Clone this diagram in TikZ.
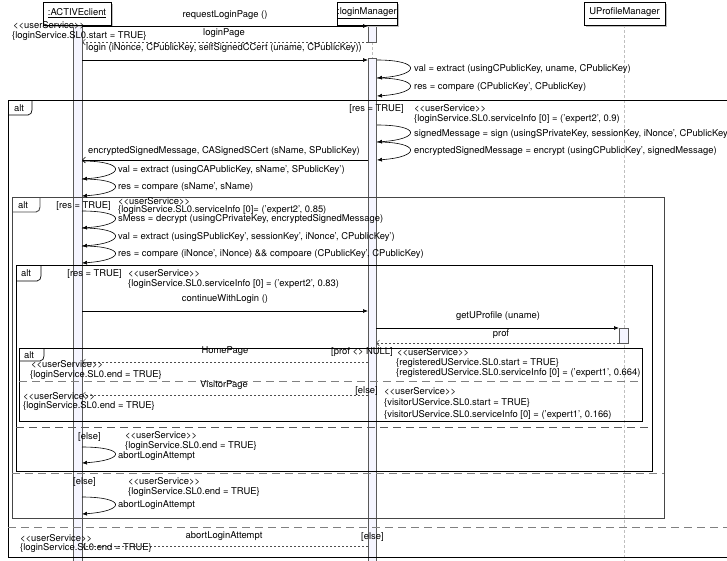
\documentclass[tikz,border=0pt]{standalone}
\usepackage{fontspec}
\setmainfont{TeX Gyre Heros}
\usetikzlibrary{arrows.meta}
\begin{document}
\begin{tikzpicture}[x=1pt,y=-1pt,
  txt/.style={inner sep=0pt, font=\fontsize{9.4}{10}\selectfont},
  lw/.style={txt, anchor=west},
  le/.style={txt, anchor=east},
  call/.style={draw=black, line width=0.7pt, -{Latex[length=5pt,width=4pt]}},
  answer/.style={draw=black, line width=0.6pt, -{Straight Barb[length=3pt,width=6pt]}},
  reply/.style={draw=gray!60!black, line width=0.6pt, dash pattern=on 2.5pt off 1.5pt, -{Straight Barb[length=3pt,width=6pt]}},
  selfcall/.style={draw=black, line width=0.6pt, -{Latex[length=5pt,width=4pt]}},
  frm/.style={draw=black, line width=0.7pt},
  frmgray/.style={draw=gray!55!black, line width=0.9pt},
  sep/.style={draw=gray, line width=0.8pt, dash pattern=on 8pt off 5pt},
  life/.style={draw=gray!50, line width=0.8pt, dash pattern=on 3pt off 2pt},
  actbar/.style={draw=gray!70!black, fill=blue!4!white, line width=0.6pt},
  hdr/.style={draw=black, fill=white, line width=0.7pt, inner sep=0pt,
              font=\fontsize{9.4}{10}\selectfont},
  shadow/.style={fill=gray!50, draw=none}
]
\useasboundingbox (0,0) rectangle (727,560);
\clip (0,0) rectangle (727,560);

% ---------- lifelines and activation bars ----------
\draw[life] (624,25) -- (624,562);
\draw[life] (372,42) -- (372,58);
\path[actbar] (73,25) rectangle (82,562);
\path[actbar] (368,25) rectangle (376,42);
\path[actbar] (368,58) rectangle (376,562);
\path[actbar] (619,328) rectangle (628,343);

% ---------- participant headers ----------
\fill[shadow] (44.5,3.5) rectangle (112.5,26.5);
\node[hdr, minimum width=68, minimum height=23] (client) at (77,13.5) {\underline{:ACTIVEclient}};
\fill[shadow] (338.5,3.5) rectangle (398.5,26.5);
\node[hdr, minimum width=60, minimum height=23] (server) at (367,13.5) {\underline{:loginManager}};
\fill[shadow] (585.5,3.5) rectangle (666.5,26.5);
\node[hdr, minimum width=81, minimum height=23] (profiles) at (624.5,13.5) {\underline{UProfileManager}};

% ---------- combined fragments ----------
\newcommand\alttab[5]{%
  \draw[#5] (#1,#2+#4) -- (#1+#3-4,#2+#4) to[out=0,in=-90] (#1+#3,#2+#4-5) -- (#1+#3,#2);}
% outer alt
\draw[frm] (8,100) rectangle (745,557);
\alttab{8}{100}{24}{15}{frm}
\node[txt] (alt1) at (19,108) {alt};
\draw[sep] (8,527) -- (745,527);
% second alt
\draw[frmgray] (12,197) rectangle (664,518);
\alttab{12}{197}{28}{15}{frmgray}
\node[txt] (alt2) at (23,205) {alt};
\draw[sep] (12,473) -- (664,473);
% third alt
\draw[frm] (16,265) rectangle (652,471);
\alttab{16}{265}{25}{16}{frm}
\node[txt] (alt3) at (26,273) {alt};
\draw[sep, draw=gray!70!black] (16,427) -- (652,427);
% fourth alt
\draw[frm] (19,348) rectangle (642,421);
\alttab{19}{348}{25}{13}{frm}
\node[txt] (alt4) at (29,355) {alt};
\draw[sep] (19,381) -- (642,381);

% ---------- message end points ----------
\coordinate (m1a) at (82,26);   \coordinate (m1b) at (368,26);
\coordinate (m2a) at (368,42);  \coordinate (m2b) at (82,42);
\coordinate (m3a) at (82,60);   \coordinate (m3b) at (368,60);
\coordinate (m4a) at (368,160); \coordinate (m4b) at (82,160);
\coordinate (m5a) at (82,311);  \coordinate (m5b) at (368,311);
\coordinate (m6a) at (376,328); \coordinate (m6b) at (619,328);
\coordinate (m7a) at (619,343); \coordinate (m7b) at (376,343);
\coordinate (m8a) at (368,362); \coordinate (m8b) at (82,362);
\coordinate (m9a) at (368,395); \coordinate (m9b) at (82,395);
\coordinate (m10a) at (368,546); \coordinate (m10b) at (82,546);

% ---------- messages ----------
\draw[call] (m1a) -- (m1b);
\node[txt] (l1) at (225,15) {requestLoginPage ()};
\draw[reply] (m2a) -- (m2b);
\node[txt] (l2) at (224,33) {loginPage};
\draw[call] (m3a) -- (m3b);
\node[txt] (l3) at (224,48) {login (iNonce, CPublicKey, selfSignedCCert (uname, CPublicKey))};
\draw[answer] (m4a) -- (m4b);
\node[txt] (l4) at (224,151) {encryptedSignedMessage, CASignedSCert (sName, SPublicKey)};
\draw[call] (m5a) -- (m5b);
\node[txt] (l5) at (225,299) {continueWithLogin ()};
\draw[call] (m6a) -- (m6b);
\node[txt] (l6) at (498,316) {getUProfile (uname)};
\draw[reply] (m7a) -- (m7b);
\node[txt] (l7) at (501,334) {prof};
\draw[reply] (m8a) -- (m8b);
\node[txt] (l8) at (225,351) {HomePage};
\draw[reply] (m9a) -- (m9b);
\node[txt] (l9) at (224,385) {VisitorPage};
\draw[reply] (m10a) -- (m10b);
\node[txt] (l10) at (224,536) {abortLoginAttempt};

% ---------- self calls on loginManager ----------
\coordinate (s0) at (377,60);  \coordinate (s1) at (377,78);
\coordinate (s2) at (377,96);  \coordinate (s3) at (377,125);
\coordinate (s4) at (377,142); \coordinate (s5) at (377,160);
\draw[selfcall] (s0) .. controls +(44,0) and +(44,-3) .. (s1);
\draw[selfcall] (s1) .. controls +(44,0) and +(44,-3) .. (s2);
\draw[selfcall] (s3) .. controls +(44,0) and +(44,-3) .. (s4);
\draw[selfcall] (s4) .. controls +(44,0) and +(44,-3) .. (s5);
\node[lw] (t1) at (414,69) {val = extract (usingCPublicKey, uname, CPublicKey)};
\node[lw] (t2) at (414,87) {res = compare (CPublicKey', CPublicKey)};
\node[lw] (t3) at (414,134) {signedMessage = sign (usingSPrivateKey, sessionKey, iNonce', CPublicKey)};
\node[lw] (t4) at (414,151) {encryptedSignedMessage = encrypt (usingCPublicKey', signedMessage)};

% ---------- self calls on ACTIVEclient ----------
\coordinate (c0) at (82,161);  \coordinate (c1) at (82,179);
\coordinate (c2) at (82,196);  \coordinate (c3) at (82,211);
\coordinate (c4) at (82,228);  \coordinate (c5) at (82,246);
\coordinate (c6) at (82,263);
\coordinate (c7) at (82,447);  \coordinate (c8) at (82,463);
\coordinate (c9) at (82,497);  \coordinate (c10) at (82,514);
\draw[selfcall] (c0) .. controls +(44,0) and +(44,-3) .. (c1);
\draw[selfcall] (c1) .. controls +(44,0) and +(44,-3) .. (c2);
\draw[selfcall] (c3) .. controls +(44,0) and +(44,-3) .. (c4);
\draw[selfcall] (c4) .. controls +(44,0) and +(44,-3) .. (c5);
\draw[selfcall] (c5) .. controls +(44,0) and +(44,-3) .. (c6);
\draw[selfcall] (c7) .. controls +(44,0) and +(44,-3) .. (c8);
\draw[selfcall] (c9) .. controls +(44,0) and +(44,-3) .. (c10);
\node[lw] (u1) at (118,170) {val = extract (usingCAPublicKey, sName', SPublicKey')};
\node[lw] (u2) at (118,187) {res = compare (sName', sName)};
\node[lw] (u3) at (118,219) {sMess = decrypt (usingCPrivateKey, encryptedSignedMessage)};
\node[lw] (u4) at (118,237) {val = extract (usingSPublicKey', sessionKey', iNonce', CPublicKey')};
\node[lw] (u5) at (118,254) {res = compare (iNonce', iNonce) \&\& compoare (CPublicKey', CPublicKey)};
\node[lw] (u6) at (118,456) {abortLoginAttempt};
\node[lw] (u7) at (118,505) {abortLoginAttempt};

% ---------- guards and service annotations ----------
\node[lw] (a1) at (13,25) {<{}<userService>{}>};
\node[lw] (a2) at (12,36) {\{loginService.SL0.start = TRUE\}};

\node[le] (g1) at (404,109) {[res = TRUE]};
\node[lw] (a3) at (414,108) {<{}<userService>{}>};
\node[lw] (a4) at (414,119) {\{loginService.SL0.serviceInfo [0] = ('expert2', 0.9)};

\node[le] (g2) at (111,206) {[res = TRUE]};
\node[lw] (a5) at (118,201) {<{}<userService>{}>};
\node[lw] (a6) at (118,210) {\{loginService.SL0.serviceInfo [0]= ('expert2', 0.85)};

\node[le] (g3) at (122,274) {[res = TRUE]};
\node[lw] (a7) at (128,273) {<{}<userService>{}>};
\node[lw] (a8) at (128,284) {\{loginService.SL0.serviceInfo [0] = ('expert2', 0.83)};

\node[le] (g4) at (393,352) {[prof <{}> NULL]};
\node[lw] (a9) at (397,352) {<{}<userService>{}>};
\node[lw] (a10) at (396,363) {\{registeredUService.SL0.start = TRUE\}};
\node[lw] (a11) at (396,373) {\{registeredUService.SL0.serviceInfo [0] = ('expert1', 0.664)};
\node[lw] (a12) at (31,364) {<{}<userService>{}>};
\node[lw] (a13) at (30,375) {\{loginService.SL0.end = TRUE\}};

\node[le] (g5) at (378,391) {[else]};
\node[lw] (a14) at (384,391) {<{}<userService>{}>};
\node[lw] (a15) at (384,403) {\{visitorUService.SL0.start = TRUE\}};
\node[lw] (a16) at (384,415) {\{visitorUService.SL0.serviceInfo [0] = ('expert1', 0.166)};
\node[lw] (a17) at (23,396) {<{}<userService>{}>};
\node[lw] (a18) at (23,406) {\{loginService.SL0.end = TRUE\}};

\node[lw] (g6) at (78,437) {[else]};
\node[lw] (a19) at (125,435) {<{}<userService>{}>};
\node[lw] (a20) at (125,446) {\{loginService.SL0.end = TRUE\}};

\node[lw] (g7) at (73,482) {[else]};
\node[lw] (a21) at (128,481) {<{}<userService>{}>};
\node[lw] (a22) at (128,492) {\{loginService.SL0.end = TRUE\}};

\node[lw] (g8) at (361,537) {[else]};
\node[lw] (a23) at (20,538) {<{}<userService>{}>};
\node[lw] (a24) at (20,548) {\{loginService.SL0.end = TRUE\}};
\end{tikzpicture}
\end{document}
